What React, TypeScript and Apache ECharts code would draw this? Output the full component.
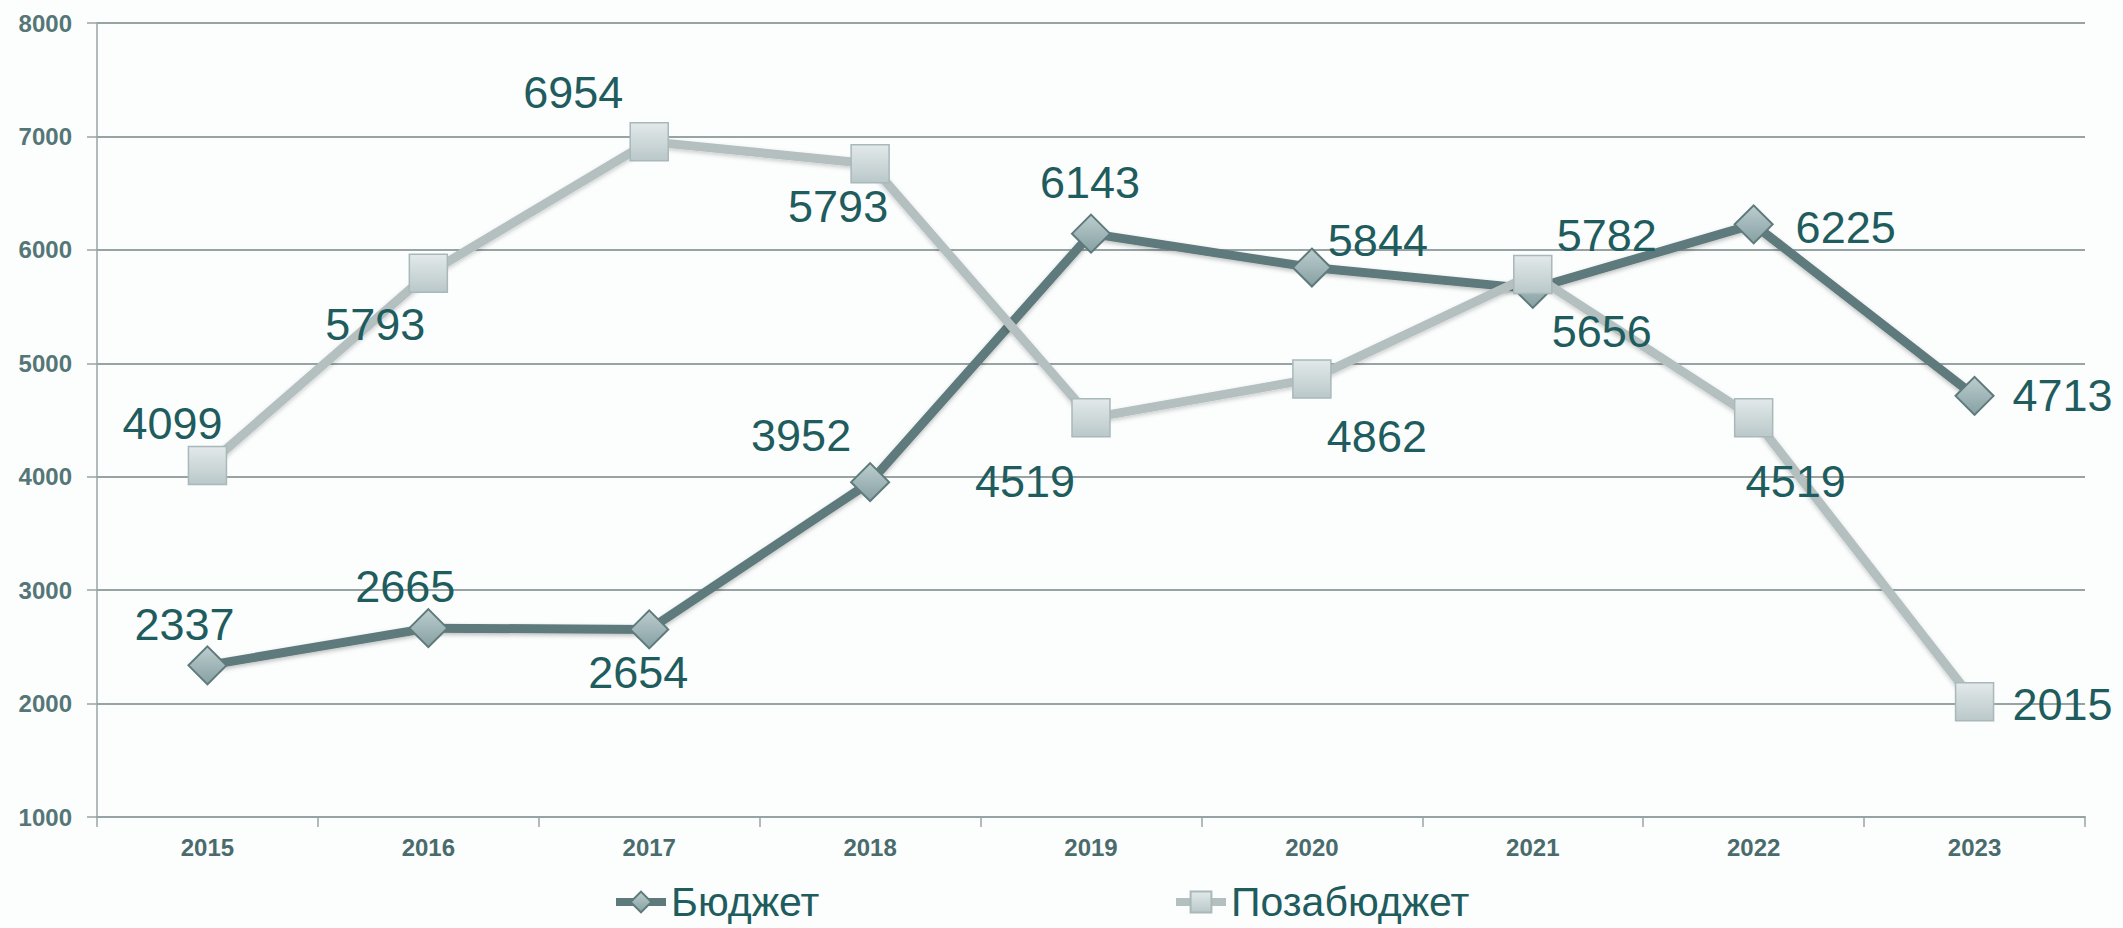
import React, { useEffect, useRef } from "react";
import * as echarts from "echarts";

const years = ["2015", "2016", "2017", "2018", "2019", "2020", "2021", "2022", "2023"];
const budget = [2337, 2665, 2654, 3952, 6143, 5844, 5656, 6225, 4713];
const offBudget = [4099, 5793, 6954, 6760, 4519, 4862, 5782, 4519, 2015];
const offBudgetLabels = ["4099", "5793", "6954", "5793", "4519", "4862", "5782", "4519", "2015"];
const yTicks = { min: 1000, max: 8000, interval: 1000 };
const seriesNames = ["Бюджет", "Позабюджет"];

// label placement (pixel offsets from each marker's centre)
const budgetLabelOffsets: [number, number][] = [
  [-23, -41], [-23, -42], [-11, 43], [-69, -47], [-1, -51], [66, -27], [69, 43], [92, 3], [88, 0],
];
const offLabelOffsets: [number, number][] = [
  [-35, -42], [-53, 51], [-76, -49], [-32, 43], [-66, 64], [65, 58], [74, -39], [42, 64], [88, 3],
];

const FONT = "'Liberation Sans', Arial, sans-serif";
const LABEL_COLOR = "#1e5c5e";
const AXIS_COLOR = "#98a4a4";

export default function App() {
  const ref = useRef<HTMLDivElement>(null);
  useEffect(() => {
    document.body.style.margin = "0";
    if (!ref.current) return;
    const chart = echarts.init(ref.current, undefined, { renderer: "svg" });
    const labelBase = {
      show: true,
      position: "inside" as const,
      fontSize: 45,
      fontFamily: FONT,
      color: LABEL_COLOR,
      opacity: 1,
    };
    const legendText = { fontSize: 41, fontFamily: FONT, color: LABEL_COLOR, lineHeight: 44 };
    chart.setOption({
      animation: false,
      backgroundColor: "#fcfdfd",
      grid: { left: 97, right: 38, top: 23, bottom: 111, containLabel: false },
      legend: [
        {
          data: [seriesNames[0]],
          left: 612,
          top: 880,
          padding: 0,
          itemWidth: 50,
          itemHeight: 26,
          lineStyle: { width: 8 },
          textStyle: legendText,
        },
        {
          data: [seriesNames[1]],
          left: 1172,
          top: 880,
          padding: 0,
          itemWidth: 50,
          itemHeight: 26,
          lineStyle: { width: 8 },
          textStyle: legendText,
        },
      ],
      xAxis: {
        type: "category",
        data: years,
        boundaryGap: true,
        axisLine: { show: true, lineStyle: { color: AXIS_COLOR, width: 2 } },
        axisTick: { show: true, length: 10, alignWithLabel: false, lineStyle: { color: AXIS_COLOR, width: 1.5 } },
        axisLabel: { fontSize: 24, fontWeight: "bold", fontFamily: FONT, color: "#4a6b6c", margin: 18 },
        splitLine: { show: false },
      },
      yAxis: {
        type: "value",
        min: yTicks.min,
        max: yTicks.max,
        interval: yTicks.interval,
        axisLine: { show: true, lineStyle: { color: AXIS_COLOR, width: 1.5 } },
        axisTick: { show: true, length: 10, lineStyle: { color: AXIS_COLOR, width: 1.5 } },
        axisLabel: {
          fontSize: 24,
          fontWeight: "bold",
          fontFamily: FONT,
          color: "#557676",
          margin: 25,
          formatter: (v: number) => String(v),
        },
        splitLine: { show: true, lineStyle: { color: AXIS_COLOR, width: 2 } },
      },
      series: [
        {
          name: seriesNames[0],
          type: "line",
          symbol: "diamond",
          symbolSize: 38,
          z: 2,
          lineStyle: {
            color: "#5e7a7b",
            width: 9,
            shadowColor: "rgba(0,0,0,0.25)",
            shadowBlur: 4,
            shadowOffsetY: 2,
          },
          itemStyle: {
            color: new echarts.graphic.LinearGradient(0, 0, 0, 1, [
              { offset: 0, color: "#bccdcf" },
              { offset: 1, color: "#86a0a2" },
            ]),
            borderColor: "#5e7a7b",
            borderWidth: 2,
          },
          data: budget,
        },
        {
          name: seriesNames[1],
          type: "line",
          symbol: "rect",
          symbolSize: 38,
          z: 3,
          lineStyle: {
            color: "#b4bfc0",
            width: 9,
            shadowColor: "rgba(0,0,0,0.2)",
            shadowBlur: 4,
            shadowOffsetY: 2,
          },
          itemStyle: {
            color: new echarts.graphic.LinearGradient(0, 0, 0, 1, [
              { offset: 0, color: "#e2e9ea" },
              { offset: 1, color: "#bac8c9" },
            ]),
            borderColor: "#a9b8b9",
            borderWidth: 1.5,
          },
          data: offBudget,
        },
        {
          name: "budget-labels",
          type: "scatter",
          silent: true,
          z: 10,
          symbolSize: 1,
          itemStyle: { color: "rgba(0,0,0,0)", opacity: 1 },
          data: budget.map((v, i) => ({
            value: v,
            label: { ...labelBase, offset: budgetLabelOffsets[i] },
          })),
        },
        {
          name: "offbudget-labels",
          type: "scatter",
          silent: true,
          z: 10,
          symbolSize: 1,
          itemStyle: { color: "rgba(0,0,0,0)", opacity: 1 },
          data: offBudget.map((v, i) => ({
            value: v,
            label: {
              ...labelBase,
              offset: offLabelOffsets[i],
              formatter: () => offBudgetLabels[i],
            },
          })),
        },
      ],
    });
    return () => chart.dispose();
  }, []);
  return <div ref={ref} style={{ width: 2123, height: 928 }} />;
}
